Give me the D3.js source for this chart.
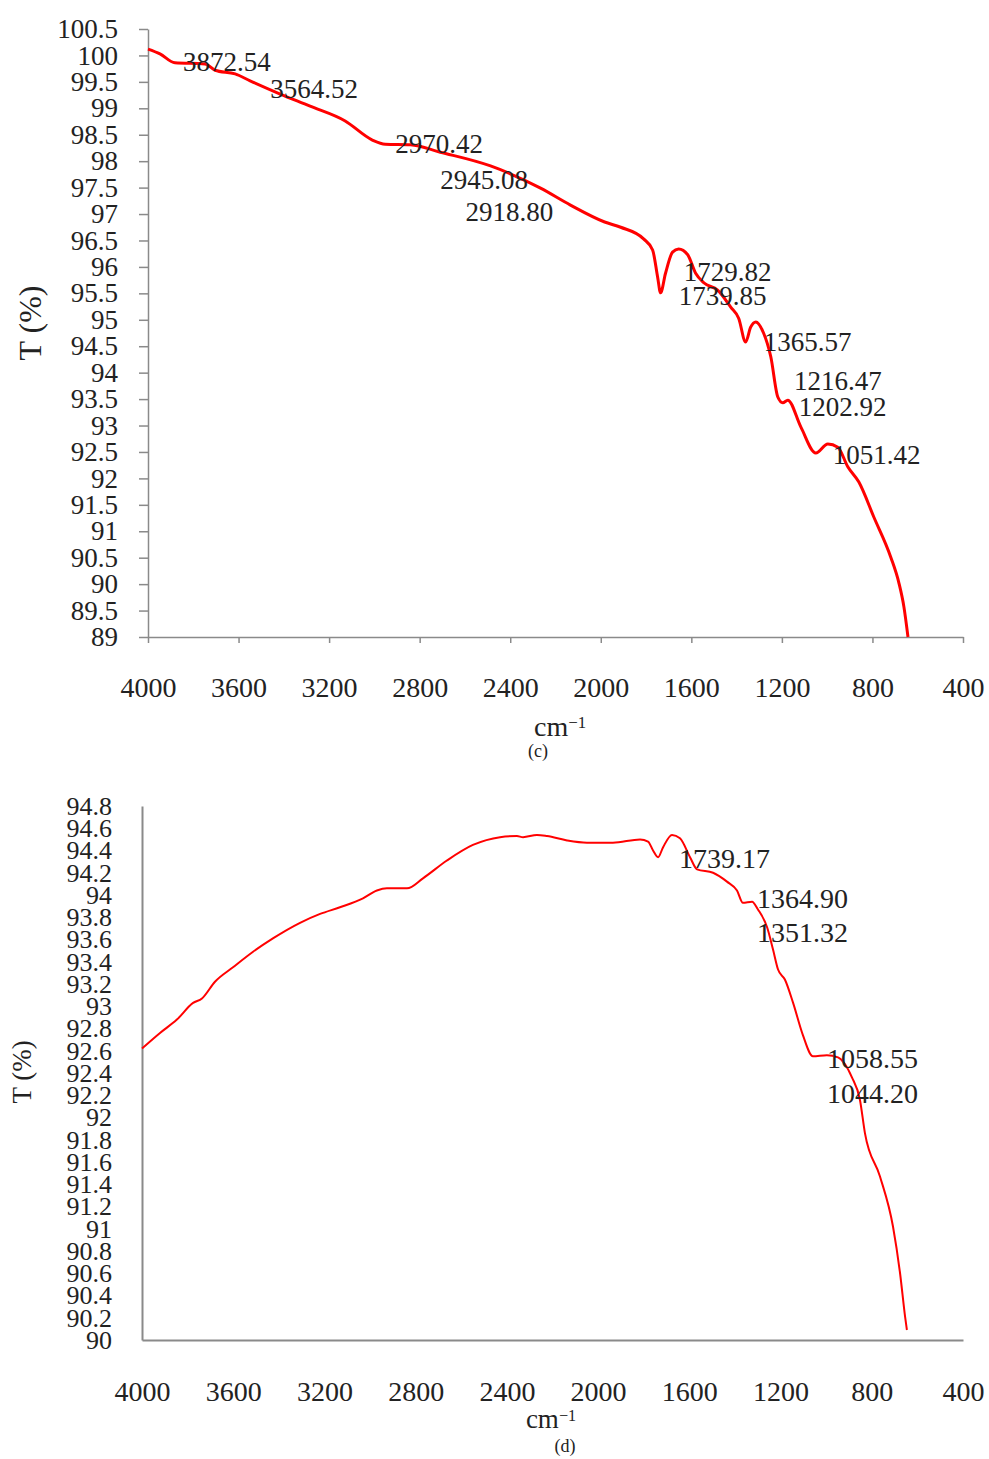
<!DOCTYPE html>
<html>
<head>
<meta charset="utf-8">
<script src="https://cdn.jsdelivr.net/npm/d3@7"></script>
<style>
	body { margin: 0; background: #fff; }
	svg { display: block; }
	svg text { font-family: "Liberation Serif", "DejaVu Serif", serif; }
	.domain { stroke: #8a8a8a; }
	.tick line { stroke: #8a8a8a; }
	.tick text { fill: #222; }
</style>
</head>
<body>
<svg width="989" height="1459"></svg>
<script>
// x axis ticks shared by both panels (wavenumber, cm-1)
var xTicks = [4000, 3600, 3200, 2800, 2400, 2000, 1600, 1200, 800, 400];

// panel (c)
var yTicksC = [89, 89.5, 90, 90.5, 91, 91.5, 92, 92.5, 93, 93.5, 94, 94.5, 95, 95.5, 96, 96.5, 97, 97.5, 98, 98.5, 99, 99.5, 100, 100.5];
var wnC = [4000, 3947, 3881, 3748, 3704, 3615, 3549, 3416, 3284, 3129, 3009, 2952, 2841, 2709, 2487, 2266, 2134, 1983, 1912, 1811, 1771, 1749, 1736, 1714, 1683, 1656, 1616, 1581, 1545, 1484, 1426, 1391, 1360, 1338, 1315, 1281, 1249, 1218, 1196, 1174, 1116, 1050, 997, 953, 909, 860, 794, 719, 683, 661, 643];
var tC = [100.12, 100.03, 99.86, 99.84, 99.72, 99.65, 99.52, 99.27, 99.04, 98.76, 98.40, 98.32, 98.31, 98.17, 97.91, 97.49, 97.17, 96.85, 96.75, 96.53, 96.32, 95.81, 95.51, 95.88, 96.28, 96.34, 96.23, 95.88, 95.70, 95.56, 95.24, 95.03, 94.58, 94.86, 94.96, 94.75, 94.30, 93.54, 93.43, 93.48, 92.97, 92.48, 92.65, 92.59, 92.22, 91.93, 91.27, 90.51, 90.02, 89.57, 89.00];
var peaksC = ["3872.54", "3564.52", "2970.42", "2945.08", "2918.80", "1729.82", "1739.85", "1365.57", "1216.47", "1202.92", "1051.42"];
var peakWnC = [3845, 3460, 2908, 2709, 2598, 1634, 1656, 1280, 1147, 1125, 975];
var peakTC = [99.88, 99.37, 98.34, 97.66, 97.04, 95.92, 95.45, 94.58, 93.86, 93.35, 92.46];

// panel (d)
var yTicksD = [90, 90.2, 90.4, 90.6, 90.8, 91, 91.2, 91.4, 91.6, 91.8, 92, 92.2, 92.4, 92.6, 92.8, 93, 93.2, 93.4, 93.6, 93.8, 94, 94.2, 94.4, 94.6, 94.8];
var wnD = [4000, 3921, 3847, 3776, 3737, 3680, 3601, 3513, 3426, 3307, 3219, 3132, 3031, 2970, 2926, 2838, 2768, 2663, 2549, 2430, 2356, 2329, 2268, 2224, 2136, 2049, 1935, 1816, 1781, 1759, 1737, 1715, 1676, 1641, 1597, 1566, 1496, 1435, 1391, 1365, 1325, 1299, 1259, 1233, 1211, 1181, 1145, 1102, 1058, 997, 948, 887, 852, 830, 764, 707, 676, 654, 646];
var tD = [92.62, 92.76, 92.88, 93.03, 93.07, 93.22, 93.35, 93.49, 93.61, 93.75, 93.83, 93.89, 93.97, 94.04, 94.06, 94.06, 94.15, 94.31, 94.45, 94.52, 94.53, 94.52, 94.54, 94.53, 94.49, 94.47, 94.47, 94.50, 94.48, 94.40, 94.34, 94.43, 94.54, 94.51, 94.34, 94.23, 94.20, 94.12, 94.04, 93.93, 93.94, 93.87, 93.71, 93.51, 93.33, 93.24, 93.03, 92.74, 92.55, 92.56, 92.54, 92.36, 92.16, 91.86, 91.47, 91.02, 90.60, 90.21, 90.09];
var peaksD = ["1739.17", "1364.90", "1351.32", "1058.55", "1044.20"];
var peakWnD = [1645, 1303, 1303, 996, 996];
var peakTD = [94.33, 93.97, 93.67, 92.53, 92.22];


function drawPanel(svg, opt) {
	var x = d3.scaleLinear().domain([4000, 400]).range([opt.left, opt.right]);
	var y = d3.scaleLinear().domain(opt.yDomain).range([opt.bottom, opt.top]);

	var g = svg.append("g");

	// y axis
	var ya = g.append("g")
		.attr("transform", "translate(" + opt.left + ",0)")
		.call(d3.axisLeft(y)
			.tickValues(opt.yTicks)
			.tickSize(opt.yTickSize)
			.tickSizeOuter(0)
			.tickPadding(opt.yPad)
			.tickFormat(function(d) { return String(d); }));
	ya.attr("font-family", null).attr("font-size", opt.yFont);
	ya.select(".domain").attr("stroke-width", opt.axisW);

	// x axis
	var xa = g.append("g")
		.attr("transform", "translate(0," + opt.bottom + ")")
		.call(d3.axisBottom(x)
			.tickValues(xTicks)
			.tickSize(opt.xTickSize)
			.tickSizeOuter(0)
			.tickPadding(opt.xPad)
			.tickFormat(function(d) { return String(d); }));
	xa.attr("font-family", null).attr("font-size", opt.xFont);
	xa.select(".domain").attr("stroke-width", opt.axisW);
	g.selectAll(".tick line").attr("stroke-width", 1.5);

	// spectrum
	var pts = opt.wn.map(function(w, i) { return [w, opt.t[i]]; });
	var line = d3.line()
		.x(function(d) { return x(d[0]); })
		.y(function(d) { return y(d[1]); })
		.curve(d3.curveMonotoneX);

	g.append("path")
		.datum(pts)
		.attr("fill", "none")
		.attr("stroke", "#f00")
		.attr("stroke-width", opt.lineW)
		.attr("stroke-linejoin", "round")
		.attr("d", line);

	// peak labels
	g.selectAll(".peak")
		.data(opt.peaks)
		.enter().append("text")
			.attr("class", "peak")
			.attr("x", function(d, i) { return x(opt.peakWn[i]); })
			.attr("y", function(d, i) { return y(opt.peakT[i]); })
			.attr("dy", "0.35em")
			.attr("font-size", opt.peakFont)
			.attr("fill", "#222")
			.text(function(d) { return d; });

	// axis titles
	var cm = g.append("text")
		.attr("x", opt.cmX)
		.attr("y", opt.cmY)
		.attr("text-anchor", "middle")
		.attr("font-size", opt.cmFont)
		.attr("fill", "#222");
	cm.append("tspan").text("cm");
	cm.append("tspan").attr("dy", "-0.45em").attr("font-size", opt.cmFont * 0.6).text("\u22121");

	g.append("text")
		.attr("transform", "translate(" + opt.tX + "," + opt.tY + ") rotate(-90)")
		.attr("text-anchor", "middle")
		.attr("dy", "0.35em")
		.attr("font-size", opt.tFont)
		.attr("fill", "#222")
		.text("T (%)");

	g.append("text")
		.attr("x", opt.capX)
		.attr("y", opt.capY)
		.attr("text-anchor", "middle")
		.attr("dy", "0.35em")
		.attr("font-size", 18)
		.attr("fill", "#222")
		.text(opt.caption);
}


var svg = d3.select("svg");
svg.append("rect").attr("width", 989).attr("height", 1459).attr("fill", "#fff");

drawPanel(svg, {
	left: 148, right: 963, top: 29, bottom: 637,
	yDomain: [89, 100.5], yTicks: yTicksC, yTickSize: 9, yPad: 21, yFont: 27,
	xTickSize: 6, xPad: 34, xFont: 28, axisW: 1.5,
	wn: wnC, t: tC, lineW: 3,
	peaks: peaksC, peakWn: peakWnC, peakT: peakTC, peakFont: 27,
	cmX: 560, cmY: 736, cmFont: 28,
	tX: 30, tY: 323, tFont: 32,
	capX: 538, capY: 751, caption: "(c)"
});

drawPanel(svg, {
	left: 142, right: 963, top: 806, bottom: 1340,
	yDomain: [90, 94.8], yTicks: yTicksD, yTickSize: 0, yPad: 30, yFont: 26,
	xTickSize: 0, xPad: 41, xFont: 28, axisW: 2,
	wn: wnD, t: tD, lineW: 2,
	peaks: peaksD, peakWn: peakWnD, peakT: peakTD, peakFont: 28,
	cmX: 551, cmY: 1428, cmFont: 27,
	tX: 22, tY: 1072, tFont: 27,
	capX: 565, capY: 1446, caption: "(d)"
});
</script>
</body>
</html>
